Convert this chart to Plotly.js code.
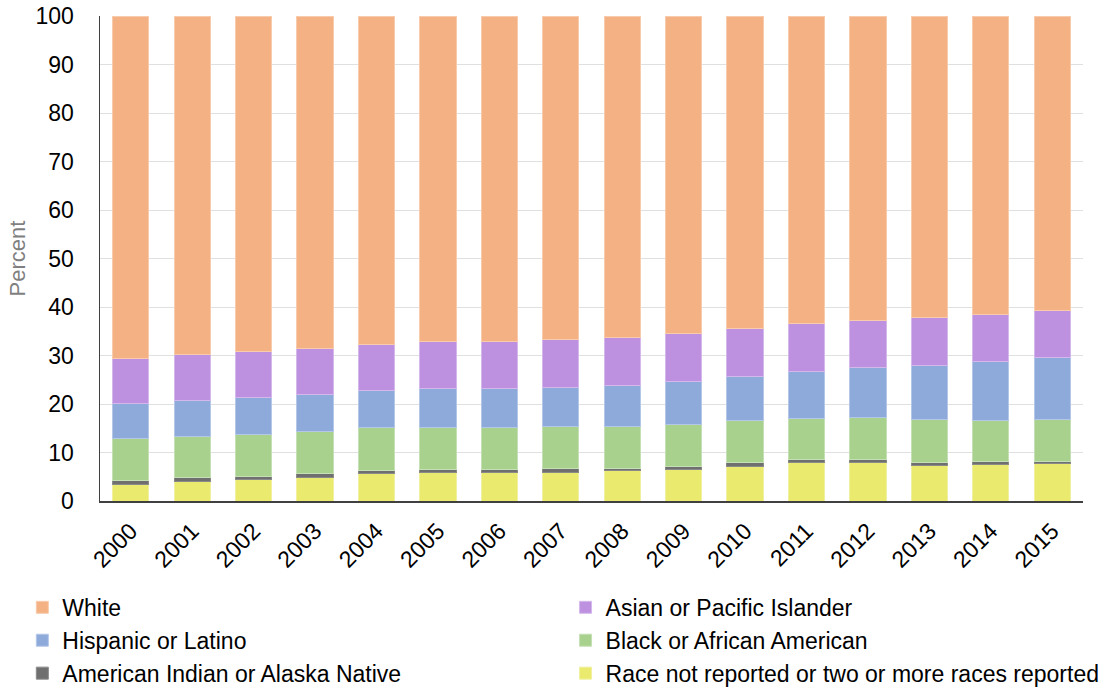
<!DOCTYPE html>
<html>
<head>
<meta charset="utf-8">
<script src="https://cdn.plot.ly/plotly-3.0.1.min.js"></script>
<style>html,body{margin:0;padding:0;background:#fff;}#chart{width:1107px;height:692px;}</style>
</head>
<body>
<div id="chart"></div>
<script>
const years = ["2000","2001","2002","2003","2004","2005","2006","2007","2008","2009","2010","2011","2012","2013","2014","2015"];
const notReported = [3.5,4.0,4.4,4.9,5.7,5.8,5.8,5.9,6.2,6.4,7.2,7.9,7.9,7.4,7.5,7.7];
const amIndian = [0.7,0.8,0.7,0.8,0.6,0.6,0.6,0.8,0.6,0.7,0.7,0.6,0.6,0.6,0.6,0.4];
const black = [8.6,8.6,8.7,8.7,8.9,8.8,8.7,8.6,8.6,8.6,8.7,8.6,8.7,8.8,8.5,8.7];
const hispanic = [7.3,7.3,7.6,7.6,7.6,7.9,8.0,8.2,8.5,8.9,9.0,9.7,10.3,11.1,12.1,12.8];
const asian = [9.3,9.6,9.4,9.5,9.5,9.7,9.7,9.7,9.9,9.9,9.9,9.8,9.7,9.9,9.7,9.7];
const white = [70.6,69.7,69.2,68.5,67.7,67.2,67.2,66.8,66.2,65.5,64.5,63.4,62.8,62.2,61.6,60.7];

const seriesNames = ["White","Asian or Pacific Islander","Hispanic or Latino","Black or African American","American Indian or Alaska Native","Race not reported or two or more races reported"];
const seriesValues = [white, asian, hispanic, black, amIndian, notReported];
const seriesColors = ["#F4B183","#BD91E0","#8EAADB","#A9D18E","#6F6F6F","#EAEA6E"];
const seriesLines = ["#F8CBAD","#D4B8EC","#B4C7E7","#C5E0B4","#8a8a8a","#F0F0A0"];
// legend column for each series (left column: White, Hispanic, AmIndian)
const legendCol = ["legend","legend2","legend","legend2","legend","legend2"];

// stacking order bottom to top
const stackOrder = [5,4,3,2,1,0];
const traces = stackOrder.map(i => ({
  type: "bar",
  name: seriesNames[i],
  x: years,
  y: seriesValues[i],
  legend: legendCol[i],
  legendgroup: "g" + i,
  legendrank: i,
  marker: {color: seriesColors[i], line: {color: seriesLines[i], width: 1}},
  hoverinfo: "x+y+name"
}));

const legendBase = {
  orientation: "v",
  xanchor: "left",
  y: -0.175, yanchor: "top",
  traceorder: "normal",
  tracegroupgap: 7.5,
  bgcolor: "rgba(0,0,0,0)",
  font: {family: "Liberation Sans, Arial, sans-serif", size: 23, color: "#000"}
};

const layout = {
  width: 1107, height: 692,
  margin: {l: 100, r: 24, t: 16, b: 191, autoexpand: false},
  barmode: "stack",
  bargap: 0.41,
  paper_bgcolor: "#fff",
  plot_bgcolor: "#fff",
  font: {family: "Liberation Sans, Arial, sans-serif", size: 23, color: "#000"},
  xaxis: {
    type: "category",
    tickangle: -45,
    tickfont: {size: 23, color: "#000"},
    showline: true, linecolor: "#404040", linewidth: 1.5,
    ticks: "", showgrid: false,
    ticklabelstandoff: 6
  },
  yaxis: {
    range: [0, 100], dtick: 10, tick0: 0,
    tickfont: {size: 23, color: "#000"},
    showline: true, linecolor: "#404040", linewidth: 1.5,
    gridcolor: "#e0e0e0", gridwidth: 1,
    zeroline: false,
    ticks: "", ticklabelstandoff: 20,
    title: {text: "Percent", font: {size: 22, color: "#7f7f7f"}, standoff: 4}
  },
  legend: Object.assign({}, legendBase, {x: -0.079}),
  legend2: Object.assign({}, legendBase, {x: 0.4736}),
  showlegend: true
};

Plotly.newPlot("chart", traces, layout, {displayModeBar: false, staticPlot: true});
</script>
</body>
</html>
